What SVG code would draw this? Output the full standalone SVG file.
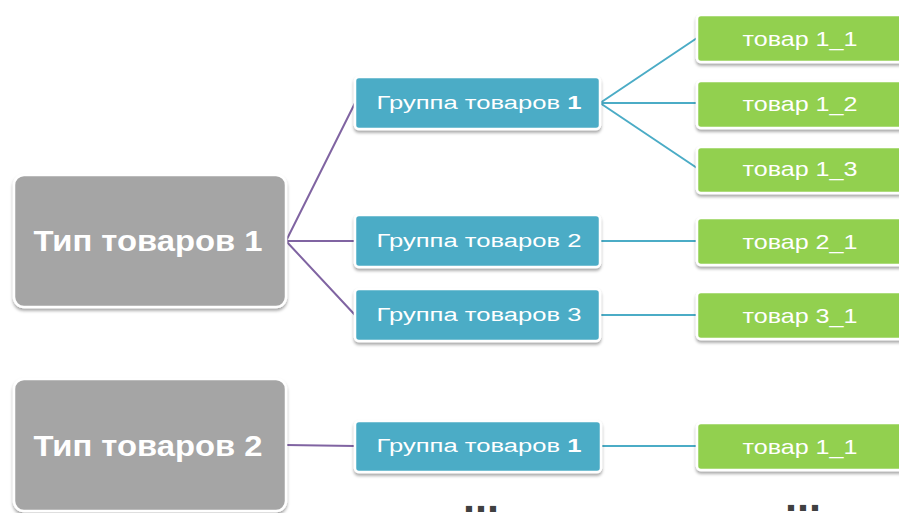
<svg xmlns="http://www.w3.org/2000/svg" width="899" height="513" viewBox="0 0 899 513">
<defs>
<filter id="sh" x="-10%" y="-20%" width="120%" height="150%">
<feDropShadow dx="0" dy="2.5" stdDeviation="1.8" flood-color="#000" flood-opacity="0.35"/>
</filter>
</defs>
<style>
.type rect{fill:#a5a5a5;stroke:#fff;stroke-width:2.5;filter:url(#sh)}
.grp rect{fill:#4bacc6;stroke:#fff;stroke-width:2.5;filter:url(#sh)}
.item rect{fill:#92d050;stroke:#fff;stroke-width:2.5;filter:url(#sh)}
text{font-family:"Liberation Sans","Open Sans",sans-serif;fill:#fff;text-anchor:middle}
.type text{font-size:30px;font-weight:bold}
.grp text{font-size:18px}
.item text{font-size:21px}
.b{font-weight:bold}
.pl{stroke:#8064a2;stroke-width:2;fill:none}
.bl{stroke:#4bacc6;stroke-width:2;fill:none}
.dots{fill:#404040;font-size:40px;font-weight:bold}
</style>
<rect width="899" height="513" fill="#fff"/>
<g id="connectors">
<path class="pl" d="M286 241 L355 103 M286 241 L355 241 M286 241 L355 315 M286 445 L355 446"/>
<path class="bl" d="M600 103 L697 38 M600 103 L697 103 M600 103 L697 168 M600 241 L697 241 M600 315 L697 315 M601 446 L697 446"/>
</g>
<g id="type1" class="type"><rect x="14" y="175" width="272" height="132" rx="10"/><text x="148" y="251" textLength="229" lengthAdjust="spacingAndGlyphs">Тип товаров 1</text></g>
<g id="type2" class="type"><rect x="14" y="379" width="272" height="132" rx="10"/><text x="148" y="456" textLength="229" lengthAdjust="spacingAndGlyphs">Тип товаров 2</text></g>
<g id="grp1" class="grp"><rect x="355" y="77" width="245" height="52" rx="4"/><text x="479" y="109" textLength="205" lengthAdjust="spacingAndGlyphs">Группа товаров <tspan class="b">1</tspan></text></g>
<g id="grp2" class="grp"><rect x="355" y="215" width="245" height="52" rx="4"/><text x="479" y="247" textLength="205" lengthAdjust="spacingAndGlyphs">Группа товаров 2</text></g>
<g id="grp3" class="grp"><rect x="355" y="289" width="245" height="52" rx="4"/><text x="479" y="321" textLength="205" lengthAdjust="spacingAndGlyphs">Группа товаров 3</text></g>
<g id="grp1b" class="grp"><rect x="355" y="421" width="246" height="51" rx="4"/><text x="479" y="452" textLength="205" lengthAdjust="spacingAndGlyphs">Группа товаров <tspan class="b">1</tspan></text></g>
<g id="item11" class="item"><rect x="697" y="15" width="210" height="47" rx="4"/><text x="800" y="46" textLength="115" lengthAdjust="spacingAndGlyphs">товар 1_1</text></g>
<g id="item12" class="item"><rect x="697" y="81" width="210" height="47" rx="4"/><text x="800" y="111" textLength="115" lengthAdjust="spacingAndGlyphs">товар 1_2</text></g>
<g id="item13" class="item"><rect x="697" y="147" width="210" height="46" rx="4"/><text x="800" y="176" textLength="115" lengthAdjust="spacingAndGlyphs">товар 1_3</text></g>
<g id="item21" class="item"><rect x="697" y="218" width="210" height="47" rx="4"/><text x="800" y="249" textLength="115" lengthAdjust="spacingAndGlyphs">товар 2_1</text></g>
<g id="item31" class="item"><rect x="697" y="292" width="210" height="47" rx="4"/><text x="800" y="323" textLength="115" lengthAdjust="spacingAndGlyphs">товар 3_1</text></g>
<g id="item11b" class="item"><rect x="697" y="423" width="210" height="47" rx="4"/><text x="800" y="454" textLength="115" lengthAdjust="spacingAndGlyphs">товар 1_1</text></g>
<text class="dots" x="481" y="512" textLength="36" lengthAdjust="spacingAndGlyphs">...</text>
<text class="dots" x="803" y="511" textLength="36" lengthAdjust="spacingAndGlyphs">...</text>
</svg>
